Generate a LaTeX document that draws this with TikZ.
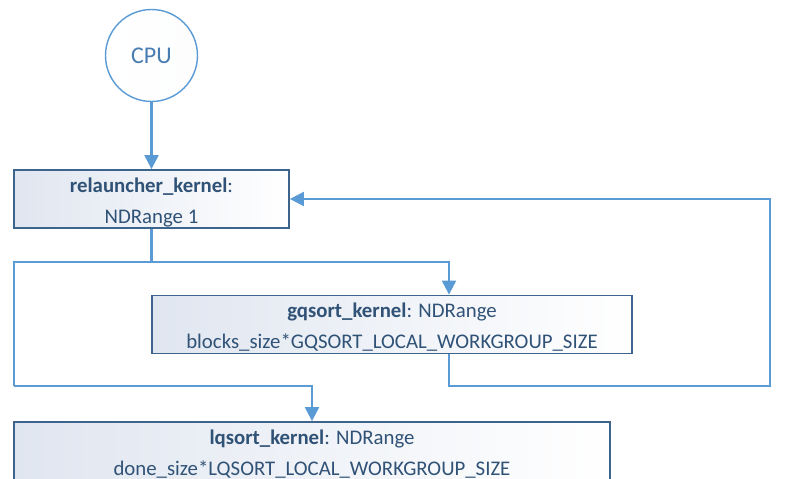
\documentclass[tikz,border=0pt]{standalone}
\usepackage{fontspec}
\setmainfont{Carlito}
\usetikzlibrary{arrows.meta,calc}
\definecolor{linec}{RGB}{91,155,213}
\definecolor{boxborder}{RGB}{60,100,140}
\definecolor{txt}{RGB}{48,82,118}
\definecolor{cputxt}{RGB}{72,125,178}
\definecolor{shadel}{RGB}{224,230,240}
\newcommand{\twolines}[2]{\raisebox{7pt}[0pt][0pt]{\begin{tabular}[t]{@{}c@{}}#1\\#2\end{tabular}}}
\begin{document}
\begin{tikzpicture}[x=1pt,y=-1pt,
  kbox/.style={draw=boxborder,line width=1.8pt,left color=shadel,right color=white,
    minimum height=58pt,inner sep=0pt,text=txt,font=\fontsize{20.8}{31}\selectfont},
  cpunode/.style={circle,draw=linec,line width=1.4pt,left color=white,right color=white!92!shadel,
    minimum size=92pt,inner sep=0pt,text=cputxt,font=\fontsize{24}{28}\selectfont},
  conn/.style={draw=linec,line width=2.2pt},
  arr/.style={conn,-{Triangle[width=14pt,length=14pt]}}]
\useasboundingbox (0,0) rectangle (785,479);
\clip (0,0) rectangle (785,479);
\node[cpunode] (cpu) at (151.5,55.5) {CPU};
\node[kbox,minimum width=275pt] (rel) at (151.5,199) {\twolines{\textbf{relauncher\_kernel}:}{NDRange 1}};
\node[kbox,minimum width=480pt] (gq) at (392,324.5) {\twolines{\textbf{gqsort\_kernel}: NDRange}{blocks\_size*GQSORT\_LOCAL\_WORKGROUP\_SIZE}};
\node[kbox,minimum width=596pt] (lq) at (312,451) {\twolines{\textbf{lqsort\_kernel}: NDRange}{done\_size*LQSORT\_LOCAL\_WORKGROUP\_SIZE}};
\coordinate (j1) at (151.5,262);
\coordinate (l1) at (14,262);
\coordinate (l2) at (14,386);
\coordinate (r1) at (770,386);
\coordinate (r2) at (770,199);
\draw[arr] (cpu) -- (rel);
\draw[conn] (rel.south) -- (j1);
\draw[arr] (j1) -| ([xshift=57pt]gq.north);
\draw[conn] (j1) -- (l1) -- (l2);
\draw[arr] (l2) -| (lq.north);
\draw[arr] ([xshift=57pt]gq.south) |- (r1) -- (r2) -- (rel.east);
\end{tikzpicture}
\end{document}
